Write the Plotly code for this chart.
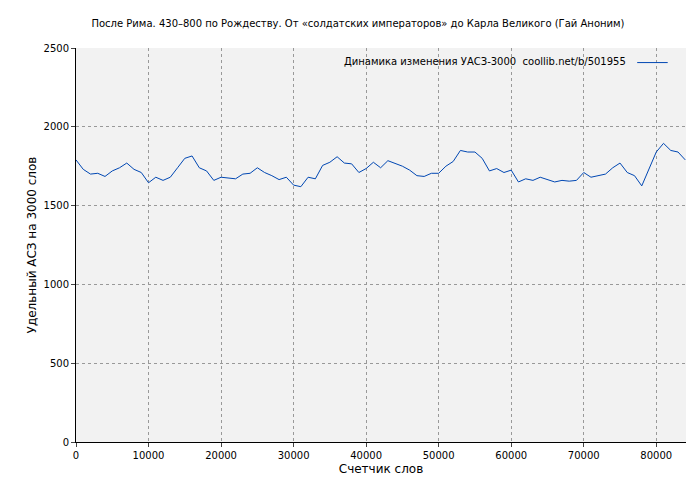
import plotly.graph_objects as go

x_thousands = list(range(0, 85))
values = [1790,1730,1700,1705,1685,1720,1740,1770,1730,1710,1645,1680,1660,1680,1740,1800,1815,1740,1720,1660,
          1680,1675,1670,1700,1705,1740,1710,1690,1665,1680,1630,1620,1680,1670,1755,1775,1810,1770,1765,1710,
          1735,1775,1740,1785,1770,1750,1725,1690,1685,1705,1705,1750,1780,1850,1840,1840,1800,1720,1735,1710,
          1725,1650,1670,1660,1680,1665,1650,1660,1655,1660,1710,1680,1690,1700,1740,1770,1710,1690,1625,1730,
          1840,1895,1850,1840,1790]
x = [v * 1000 for v in x_thousands]
xticks = list(range(0, 90000, 10000))
yticks = list(range(0, 2501, 500))
legend_text = "Динамика изменения УАСЗ-3000  coollib.net/b/501955"

fig = go.Figure(go.Scatter(x=x, y=values, mode="lines", line=dict(color="#0047b3", width=1), showlegend=False))
fig.update_layout(
    width=700, height=480, paper_bgcolor="white", plot_bgcolor="#f2f2f2",
    margin=dict(l=68, r=22, t=40, b=46, autoexpand=False),
    font=dict(family="DejaVu Sans", size=10, color="black"),
    title=dict(text="После Рима. 430–800 по Рождеству. От «солдатских императоров» до Карла Великого (Гай Аноним)",
               x=0.5, xanchor="center", y=0.975, font=dict(size=10)),
    showlegend=False,
)
fig.add_annotation(text=legend_text, xref="paper", yref="paper", x=0.905, y=0.985,
                   xanchor="right", yanchor="top", showarrow=False, font=dict(size=10))
fig.add_shape(type="line", xref="paper", yref="paper", x0=0.92, x1=0.97, y0=0.963, y1=0.963,
              line=dict(color="#0047b3", width=1))
fig.update_xaxes(range=[0, 84100], tickvals=xticks, ticktext=[str(v) for v in xticks], showgrid=True,
                 gridcolor="#999", griddash="dot", showline=True, linecolor="black", zeroline=False,
                 ticks="outside", ticklen=4, automargin=False, title=dict(text="Счетчик слов", standoff=4))
fig.update_yaxes(range=[0, 2500], tickvals=yticks, ticktext=[str(v) for v in yticks], showgrid=True,
                 gridcolor="#999", griddash="dot", showline=True, linecolor="black", zeroline=False,
                 ticks="outside", ticklen=4, automargin=False, title=dict(text="Удельный АСЗ на 3000 слов", standoff=4))
fig.write_html("out.html")
